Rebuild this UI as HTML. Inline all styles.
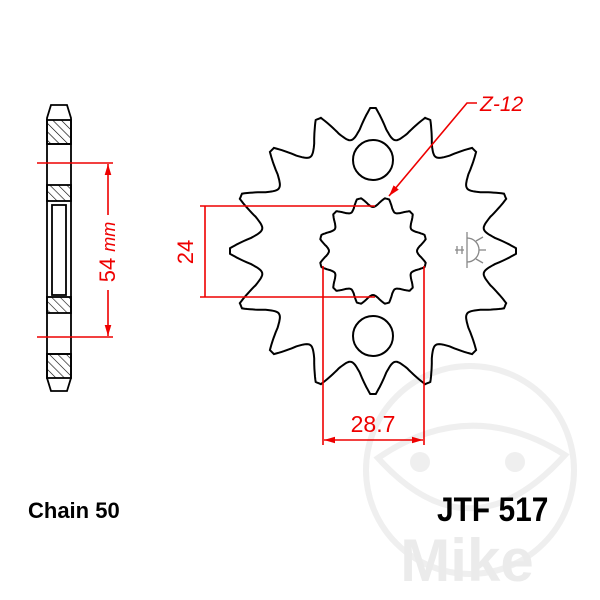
<!DOCTYPE html>
<html><head><meta charset="utf-8"><style>
html,body{margin:0;padding:0;background:#fff;width:600px;height:600px;overflow:hidden}
svg{display:block}
</style></head><body>
<svg id="s" width="600" height="600" viewBox="0 0 600 600" xmlns="http://www.w3.org/2000/svg">
<defs>
<pattern id="h" width="6" height="6" patternUnits="userSpaceOnUse" patternTransform="rotate(-45)">
<line x1="0" y1="0" x2="0" y2="6" stroke="#000" stroke-width="1.2"/></pattern>
<marker id="a" viewBox="0 0 10 10" refX="10" refY="5" markerWidth="7" markerHeight="7" orient="auto-start-reverse"><path d="M0,2 L10,5 L0,8z" fill="#e00"/></marker>
</defs>
<!-- watermark -->
<g fill="none" stroke="#efefef" stroke-width="6">
<circle cx="470" cy="470" r="104"/>
<path d="M378,458 Q470,395 565,455 Q470,560 378,458z"/>
</g>
<circle cx="420" cy="462" r="10" fill="#efefef"/>
<circle cx="515" cy="462" r="10" fill="#efefef"/>
<text x="467" y="581" font-family="Liberation Sans,sans-serif" font-weight="bold" font-size="60" fill="#ebebeb" text-anchor="middle">Mike</text>

<!-- side view -->
<g stroke="#000" stroke-width="1.8">
<path d="M51,105 L67,105 L71,118 L71,378 L67,391 L51,391 L47,378 L47,118z" fill="#fff"/>
<rect x="47" y="120" width="24" height="24" fill="url(#h)"/>
<rect x="47" y="185" width="24" height="16" fill="url(#h)"/>
<rect x="47" y="297" width="24" height="16" fill="url(#h)"/>
<rect x="47" y="354" width="24" height="24" fill="url(#h)"/>
<line x1="47" y1="144" x2="71" y2="144"/><line x1="47" y1="354" x2="71" y2="354"/>
<rect x="52" y="205" width="14" height="90" fill="none"/>
</g>
<g stroke="#e00" stroke-width="1.6" fill="none">
<line x1="37" y1="163" x2="113" y2="163"/>
<line x1="37" y1="337" x2="113" y2="337"/>
<line x1="108" y1="215" x2="108" y2="164" marker-end="url(#a)"/>
<line x1="108" y1="290" x2="108" y2="336" marker-end="url(#a)"/>
</g>
<text transform="translate(115,252) rotate(-90)" font-family="Liberation Sans,sans-serif" font-size="22" fill="#e00" text-anchor="middle">54 <tspan font-style="italic" font-size="18">mm</tspan></text>

<!-- sprocket -->
<path id="outer" fill="none" stroke="#000" stroke-width="2"/>
<path id="spl" fill="none" stroke="#000" stroke-width="2"/>
<circle cx="373" cy="160" r="20" fill="none" stroke="#000" stroke-width="2"/>
<circle cx="373" cy="336" r="20" fill="none" stroke="#000" stroke-width="2"/>
<g stroke="#888" stroke-width="1.3" fill="none">
<line x1="467" y1="232" x2="467" y2="268"/>
<path d="M467,238 A12,12 0 0 1 467,262"/>
<line x1="476" y1="241" x2="483" y2="237"/><line x1="479" y1="250" x2="486" y2="250"/><line x1="476" y1="259" x2="483" y2="263"/>
<path d="M457,246 v8 M462,246 v8 M455,250 h9"/>
</g>

<!-- red dims -->
<g stroke="#e00" stroke-width="1.6" fill="none">
<line x1="200" y1="206" x2="375" y2="206"/>
<line x1="200" y1="297" x2="375" y2="297"/>
<line x1="205" y1="206" x2="205" y2="297"/>
<line x1="323" y1="266" x2="323" y2="445"/>
<line x1="424" y1="266" x2="424" y2="445"/>
<line x1="324" y1="440" x2="423" y2="440" marker-start="url(#a)" marker-end="url(#a)"/>
<polyline points="477,103 467,103 389,196" marker-end="url(#a)"/>
</g>
<text transform="translate(193,252) rotate(-90)" font-family="Liberation Sans,sans-serif" font-size="22" fill="#e00" text-anchor="middle">24</text>
<text x="373" y="432" font-family="Liberation Sans,sans-serif" font-size="23" fill="#e00" text-anchor="middle">28.7</text>
<text x="480" y="111" font-family="Liberation Sans,sans-serif" font-style="italic" font-size="21" fill="#e00">Z-12</text>

<text x="28" y="518" font-family="Liberation Sans,sans-serif" font-weight="bold" font-size="22" fill="#000">Chain 50</text>
<text x="437" y="521" font-family="Liberation Sans,sans-serif" font-weight="bold" font-size="34" fill="#000" transform="translate(437,521) scale(0.88,1) translate(-437,-521)">JTF 517</text>
</svg>
<script>
function build(n,tip,root,cx,cy,flat,flankEnd,mid,off){
 var d="",N=n*40;
 for(var i=0;i<=N;i++){
  var u=i/N*n, t=u-Math.round(u), s=Math.abs(t), r;
  if(s<flat) r=tip;
  else if(s<flankEnd) r=tip-(s-flat)/(flankEnd-flat)*(tip-mid);
  else r=mid-(mid-root)*Math.sin((s-flankEnd)/(0.5-flankEnd)*Math.PI/2);
  var a=-Math.PI/2+off+i/N*2*Math.PI;
  d+=(i?"L":"M")+(cx+r*Math.cos(a)).toFixed(1)+","+(cy+r*Math.sin(a)).toFixed(1);
 }
 return d+"Z";
}
document.getElementById("outer").setAttribute("d",build(16,143,113,373,251,0.05,0.28,122,0));
document.getElementById("spl").setAttribute("d",build(12,54,44,373,251,0.08,0.3,47,Math.PI/12));
</script>
</body></html>
